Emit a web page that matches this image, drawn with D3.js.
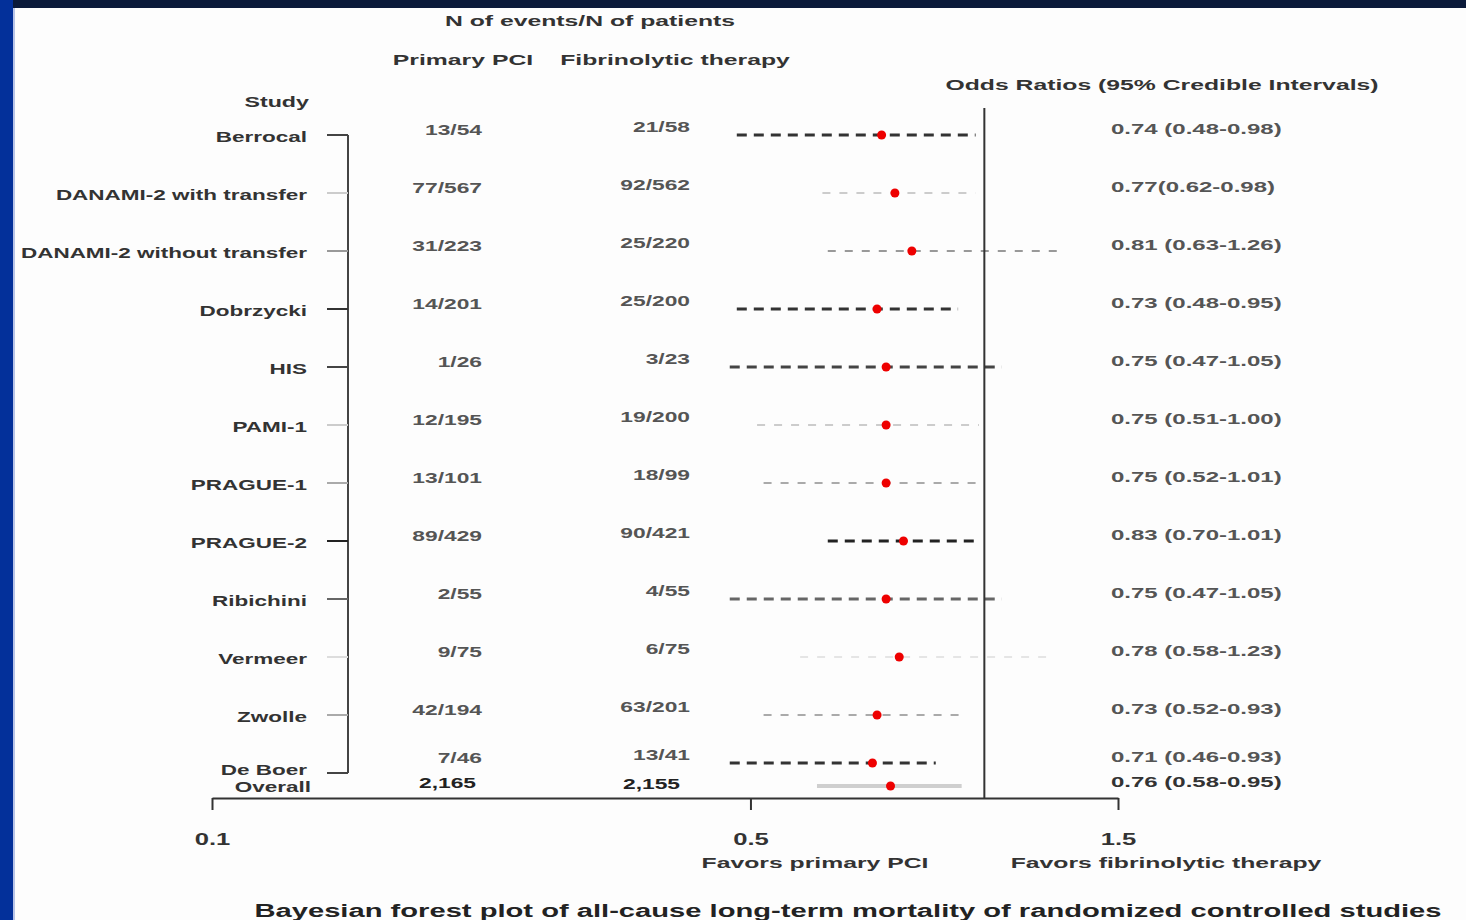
<!DOCTYPE html>
<html>
<head>
<meta charset="utf-8">
<script src="https://cdn.jsdelivr.net/npm/d3@7"></script>
<style>
  body { margin: 0; background: #fff; }
  svg { display: block; font-family: "Liberation Sans", Arial, sans-serif; }
</style>
</head>
<body>
<svg id="chart" width="1466" height="920"></svg>
<script>
// study rows, top to bottom
var studies = ["Berrocal", "DANAMI-2 with transfer", "DANAMI-2 without transfer", "Dobrzycki", "HIS",
    "PAMI-1", "PRAGUE-1", "PRAGUE-2", "Ribichini", "Vermeer", "Zwolle", "De Boer"];

var pciEvents = [13, 77, 31, 14, 1, 12, 13, 89, 2, 9, 42, 7];
var pciTotal = [54, 567, 223, 201, 26, 195, 101, 429, 55, 75, 194, 46];
var fibEvents = [21, 92, 25, 25, 3, 19, 18, 90, 4, 6, 63, 13];
var fibTotal = [58, 562, 220, 200, 23, 200, 99, 421, 55, 75, 201, 41];

// odds ratios as plotted
var orMid = [0.74, 0.77, 0.81, 0.73, 0.75, 0.75, 0.75, 0.79, 0.75, 0.78, 0.73, 0.72];
var orLow = [0.48, 0.62, 0.63, 0.48, 0.47, 0.51, 0.52, 0.63, 0.47, 0.58, 0.52, 0.47];
var orHigh = [0.98, 0.98, 1.27, 0.93, 1.06, 0.99, 1.00, 0.99, 1.06, 1.24, 0.94, 0.87];
// odds ratios as printed
var orText = ["0.74 (0.48-0.98)", "0.77(0.62-0.98)", "0.81 (0.63-1.26)", "0.73 (0.48-0.95)",
    "0.75 (0.47-1.05)", "0.75 (0.51-1.00)", "0.75 (0.52-1.01)", "0.83 (0.70-1.01)",
    "0.75 (0.47-1.05)", "0.78 (0.58-1.23)", "0.73 (0.52-0.93)", "0.71 (0.46-0.93)"];

var overallPatients = [2165, 2155];
var overallOr = [0.76, 0.61, 0.94];
var overallText = "0.76 (0.58-0.95)";

var axisTicks = [0.1, 0.5, 1.5];

// line shade per study (weight look of the original)
var rowColor = ["#333", "#ccc", "#999", "#333", "#444", "#ccc", "#aaa", "#222", "#666", "#ddd", "#aaa", "#333"];
var rowWidth = [3, 2, 2, 3, 3, 2, 2, 3, 3, 1.5, 2, 3];

var svg = d3.select("#chart");

// slide frame
svg.append("rect").attr("width", 1466).attr("height", 920).attr("fill", "#fdfdfd");
svg.append("rect").attr("width", 1466).attr("height", 8).attr("fill", "#0b1a3a");
svg.append("rect").attr("y", 0).attr("width", 13).attr("height", 920).attr("fill", "#03309a");
svg.append("rect").attr("x", 13).attr("y", 8).attr("width", 2).attr("height", 912).attr("fill", "#b8c4e8");

var x = d3.scaleLog().domain([0.1, 1.5]).range([212, 1118]);
var y = d3.scalePoint().domain(studies).range([135, 773]);

var last = studies.length - 1;
function rowY(i) {
    // the last study is squeezed up against the overall row
    return y(studies[i]) - (i === last ? 10 : 0);
}
var overallY = y(studies[last]) + 13;

// text that is stretched sideways like the source slide
function txt(g, px, py, s, o) {
    o = o || {};
    return g.append("text")
        .attr("transform", "translate(" + px + "," + py + ") scale(" + (o.sx || 1.5) + ",1)")
        .attr("text-anchor", o.anchor || "start")
        .attr("font-size", o.size || 15)
        .attr("font-weight", o.weight || "bold")
        .attr("fill", o.color || "#333")
        .text(s);
}

var g = svg.append("g");

// headers
txt(g, 590, 26, "N of events/N of patients", {anchor: "middle", sx: 1.65});
txt(g, 463, 65, "Primary PCI", {anchor: "middle", sx: 1.65});
txt(g, 675, 65, "Fibrinolytic therapy", {anchor: "middle", sx: 1.65});
txt(g, 1162, 90, "Odds Ratios (95% Credible Intervals)", {anchor: "middle", sx: 1.65});
txt(g, 309, 107, "Study", {anchor: "end", sx: 1.55});

// bracket joining the study names
g.append("line")
    .attr("x1", 348).attr("x2", 348)
    .attr("y1", y(studies[0])).attr("y2", y(studies[last]))
    .attr("stroke", "#444").attr("stroke-width", 2);

var rows = g.selectAll(".row").data(studies).enter().append("g").attr("class", "row");

rows.append("line")
    .attr("x1", 327).attr("x2", 348)
    .attr("y1", function(d) { return y(d); })
    .attr("y2", function(d) { return y(d); })
    .attr("stroke", function(d, i) { return i === 0 || i === last ? "#444" : rowColor[i]; })
    .attr("stroke-width", 2);

rows.each(function(d, i) {
    var r = d3.select(this);
    var ly = y(d) + 7 - (i === last ? 5 : 0);
    txt(r, 307, ly, d, {anchor: "end", sx: 1.5});
    txt(r, 482, rowY(i), pciEvents[i] + "/" + pciTotal[i], {anchor: "end", sx: 1.52, color: "#555"});
    txt(r, 690, rowY(i) - 3, fibEvents[i] + "/" + fibTotal[i], {anchor: "end", sx: 1.52, color: "#555"});
    txt(r, 1111, rowY(i) - 1, orText[i], {sx: 1.6, color: "#555"});
});

// credible intervals
rows.append("line")
    .attr("x1", function(d, i) { return x(orLow[i]); })
    .attr("x2", function(d, i) { return x(orHigh[i]); })
    .attr("y1", function(d, i) { return rowY(i); })
    .attr("y2", function(d, i) { return rowY(i); })
    .attr("stroke", function(d, i) { return rowColor[i]; })
    .attr("stroke-width", function(d, i) { return rowWidth[i]; })
    .attr("stroke-dasharray", function(d, i) { return rowWidth[i] >= 3 ? "10,7" : "8,9"; });

rows.append("circle")
    .attr("cx", function(d, i) { return x(orMid[i]); })
    .attr("cy", function(d, i) { return rowY(i); })
    .attr("r", 4.5)
    .attr("fill", "#ee0000");

// overall row
txt(g, 311, overallY + 6, "Overall", {anchor: "end", sx: 1.5});
txt(g, 476, overallY + 2, d3.format(",")(overallPatients[0]), {anchor: "end", sx: 1.52, color: "#222"});
txt(g, 680, overallY + 3, d3.format(",")(overallPatients[1]), {anchor: "end", sx: 1.52, color: "#222"});
txt(g, 1111, overallY + 1, overallText, {sx: 1.6, color: "#333"});
g.append("line")
    .attr("x1", x(overallOr[1])).attr("x2", x(overallOr[2]))
    .attr("y1", overallY).attr("y2", overallY)
    .attr("stroke", "#cfcfcf").attr("stroke-width", 4);
g.append("circle")
    .attr("cx", x(overallOr[0])).attr("cy", overallY)
    .attr("r", 4.5).attr("fill", "#ee0000");

// line of no effect
var axisY = 798;
g.append("line")
    .attr("x1", x(1) + 2).attr("x2", x(1) + 2)
    .attr("y1", 108).attr("y2", axisY)
    .attr("stroke", "#333").attr("stroke-width", 2);

// log axis
var axis = g.append("g")
    .attr("transform", "translate(0," + axisY + ")")
    .call(d3.axisBottom(x).tickValues(axisTicks).tickSize(12).tickSizeOuter(0)
        .tickPadding(24).tickFormat(d3.format(".1f")));
axis.select(".domain").attr("stroke", "#333").attr("stroke-width", 2);
axis.selectAll(".tick line").attr("stroke", "#333").attr("stroke-width", 2);
axis.selectAll(".tick text")
    .attr("font-family", "Liberation Sans, Arial, sans-serif")
    .attr("font-size", 16).attr("font-weight", "bold").attr("fill", "#333")
    .attr("transform", "scale(1.6,1)");

txt(g, 815, 868, "Favors primary PCI", {anchor: "middle", sx: 1.65});
txt(g, 1166, 868, "Favors fibrinolytic therapy", {anchor: "middle", sx: 1.65});

// caption
txt(g, 848, 917, "Bayesian forest plot of all-cause long-term mortality of randomized controlled studies",
    {anchor: "middle", size: 18, sx: 1.62, color: "#222"});
</script>
</body>
</html>
